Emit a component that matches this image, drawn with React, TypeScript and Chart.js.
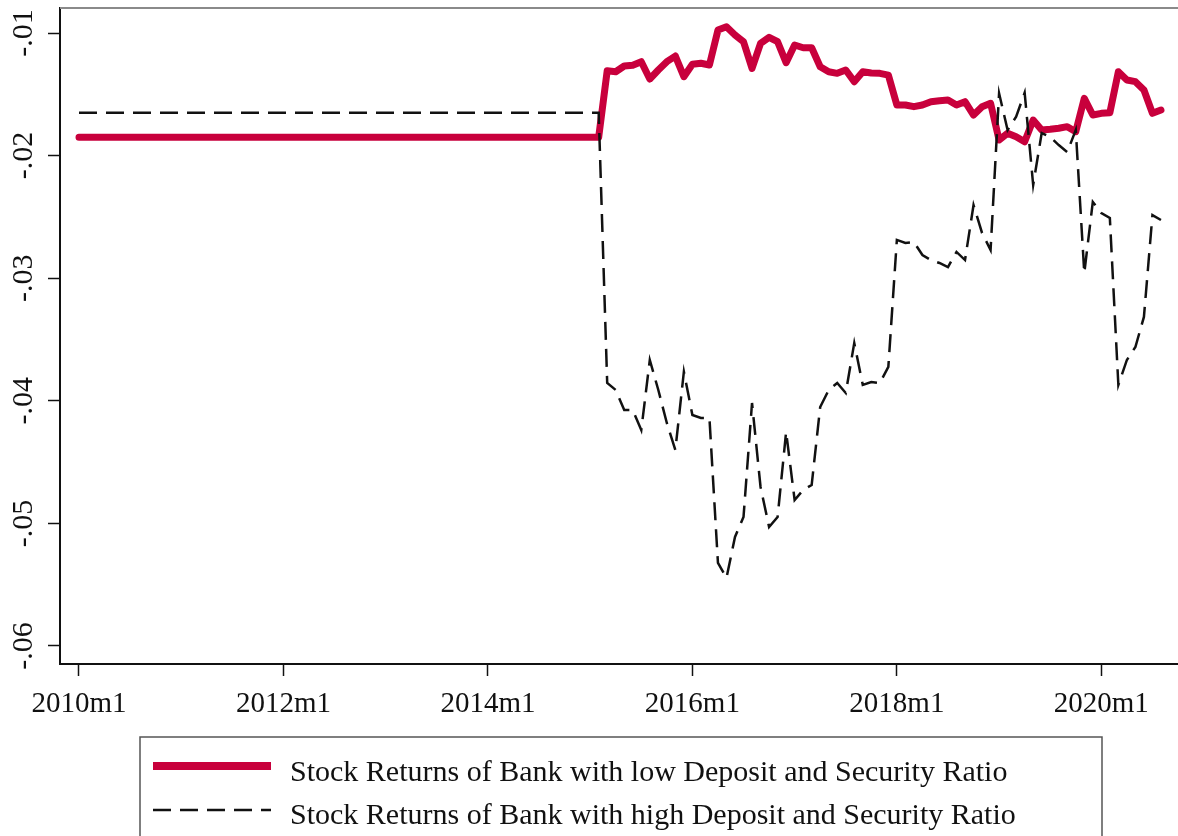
import React, { useEffect, useRef } from 'react';
import { Chart, registerables } from 'chart.js';
Chart.register(...registerables);

// month index: 0 = 2010m1
const flatMonths = [0, 61];
const months = [
  62, 63, 64, 65, 66, 67, 68, 69, 70, 71,
  72, 73, 74, 75, 76, 77, 78, 79, 80, 81,
  82, 83, 84, 85, 86, 87, 88, 89, 90, 91,
  92, 93, 94, 95, 96, 97, 98, 99, 100, 101,
  102, 103, 104, 105, 106, 107, 108, 109, 110, 111,
  112, 113, 114, 115, 116, 117, 118, 119, 120, 121,
  122, 123, 124, 125, 126, 127,
];
const lowFlat = -0.0185;
const highFlat = -0.0165;
const lowRatio = [
  -0.01308, -0.01316, -0.01269, -0.01263, -0.01234, -0.01375, -0.01302, -0.01234, -0.01188, -0.01356,
  -0.01255, -0.01247, -0.01261, -0.00976, -0.00949, -0.01016, -0.01071, -0.01288, -0.01084, -0.01035,
  -0.01071, -0.01242, -0.01098, -0.0112, -0.0112, -0.01275, -0.01316, -0.01329, -0.01302, -0.01397,
  -0.01316, -0.01326, -0.01329, -0.01343, -0.01587, -0.01587, -0.01601, -0.01587, -0.0156, -0.01552,
  -0.01547, -0.01587, -0.0156, -0.01669, -0.01601, -0.01573, -0.01873, -0.01818, -0.01846, -0.01887,
  -0.0171, -0.01791, -0.01785, -0.01777, -0.01764, -0.01805, -0.01533, -0.01669, -0.01655, -0.0165,
  -0.01316, -0.01383, -0.01397, -0.01465, -0.01655, -0.01628,
];
const highRatio = [
  -0.03855, -0.03912, -0.04075, -0.04075, -0.04238, -0.03667, -0.03912, -0.04181, -0.04401, -0.03763,
  -0.04116, -0.0414, -0.0414, -0.05323, -0.05445, -0.05111, -0.04948, -0.04018, -0.04703, -0.05029,
  -0.04948, -0.04254, -0.04809, -0.04728, -0.04687, -0.04051, -0.03912, -0.03855, -0.03936, -0.03529,
  -0.03871, -0.03847, -0.03855, -0.03724, -0.02688, -0.02713, -0.02705, -0.02811, -0.02852, -0.02876,
  -0.02909, -0.02786, -0.02852, -0.02403, -0.02631, -0.0277, -0.01492, -0.01791, -0.01683, -0.01487,
  -0.0224, -0.01816, -0.01848, -0.01914, -0.01971, -0.01791, -0.02958, -0.02378, -0.02468, -0.02509,
  -0.03871, -0.03667, -0.03561, -0.03316, -0.02485, -0.02525,
];
const xTicks = [0, 24, 48, 72, 96, 120];
const yTicks = [-0.06, -0.05, -0.04, -0.03, -0.02, -0.01];
const seriesLabels = [
  'Stock Returns of Bank with low Deposit and Security Ratio',
  'Stock Returns of Bank with high Deposit and Security Ratio',
];

const FONT = "'Liberation Serif', 'Times New Roman', serif";
const RED = '#c8003c';

const toPoints = (flat: number, vals: number[]) => [
  ...flatMonths.map((m) => ({ x: m, y: flat })),
  ...months.map((m, i) => ({ x: m, y: vals[i] })),
];

const framePlugin = {
  id: 'frameAndLegend',
  afterDraw(chart: any) {
    const ctx = chart.ctx;
    const ca = chart.chartArea;
    ctx.save();
    // top frame line
    ctx.strokeStyle = '#8a8a8a';
    ctx.lineWidth = 2;
    ctx.beginPath();
    ctx.moveTo(ca.left, ca.top);
    ctx.lineTo(ca.right, ca.top);
    ctx.stroke();
    // legend box
    const bx = 140, by = 737, bw = 962, bh = 120;
    ctx.strokeStyle = '#555';
    ctx.lineWidth = 1.5;
    ctx.strokeRect(bx, by, bw, bh);
    const ds = chart.data.datasets;
    const rows = [
      { d: ds[1], y: 766, base: 781, w: 8 },
      { d: ds[0], y: 810, base: 824, w: 2.5 },
    ];
    rows.forEach(({ d, y, base, w }) => {
      ctx.strokeStyle = d.borderColor;
      ctx.lineWidth = w;
      ctx.lineCap = 'butt';
      ctx.setLineDash(d.borderDash || []);
      ctx.beginPath();
      ctx.moveTo(153, y);
      ctx.lineTo(271, y);
      ctx.stroke();
      ctx.setLineDash([]);
      ctx.fillStyle = '#111';
      ctx.font = `30px ${FONT}`;
      ctx.textBaseline = 'alphabetic';
      ctx.textAlign = 'left';
      ctx.fillText(d.label, 290, base);
    });
    ctx.restore();
  },
};

export default function App() {
  const ref = useRef<HTMLCanvasElement>(null);
  useEffect(() => {
    if (!ref.current) return;
    const chart = new Chart(ref.current, {
      type: 'line',
      data: {
        datasets: [
          {
            label: seriesLabels[1],
            data: toPoints(highFlat, highRatio),
            borderColor: '#111',
            borderWidth: 2.5,
            borderDash: [18, 9],
            pointRadius: 0,
            tension: 0,
            order: 0,
          },
          {
            label: seriesLabels[0],
            data: toPoints(lowFlat, lowRatio),
            borderColor: RED,
            borderWidth: 7,
            borderCapStyle: 'round',
            borderJoinStyle: 'round',
            pointRadius: 0,
            tension: 0,
            order: 1,
          },
        ],
      },
      options: {
        animation: false,
        responsive: false,
        layout: { padding: { top: 8, right: 0, left: 0, bottom: 112 } },
        plugins: { legend: { display: false }, tooltip: { enabled: false } },
        scales: {
          x: {
            type: 'linear',
            min: -2.23,
            max: 129,
            afterBuildTicks: (s: any) => {
              s.ticks = xTicks.map((v) => ({ value: v }));
            },
            afterFit: (s: any) => {
              s.height = 60;
              s.paddingLeft = 0;
              s.paddingRight = 0;
            },
            grid: { drawOnChartArea: false, tickLength: 12, tickColor: '#111', tickWidth: 1.5 },
            border: { display: true, color: '#111', width: 2 },
            ticks: {
              color: '#111',
              font: { family: FONT, size: 29 },
              padding: 11,
              maxRotation: 0,
              minRotation: 0,
              callback: (v: any) => `${2010 + Number(v) / 12}m1`,
            },
          },
          y: {
            type: 'linear',
            min: -0.06147,
            max: -0.00796,
            afterBuildTicks: (s: any) => {
              s.ticks = yTicks.map((v) => ({ value: v }));
            },
            afterFit: (s: any) => {
              s.width = 60;
              s.paddingTop = 0;
              s.paddingBottom = 0;
            },
            grid: { drawOnChartArea: false, tickLength: 12, tickColor: '#111', tickWidth: 1.5 },
            border: { display: true, color: '#111', width: 2 },
            ticks: {
              color: '#111',
              font: { family: FONT, size: 30 },
              padding: 0,
              minRotation: 90,
              maxRotation: 90,
              crossAlign: 'center',
              callback: (v: any) => '-.' + String(Math.round(-Number(v) * 100)).padStart(2, '0'),
            },
          },
        },
      },
      plugins: [framePlugin],
    } as any);
    return () => chart.destroy();
  }, []);
  return (
    <div style={{ position: 'absolute', left: 0, top: 0, width: 1178, height: 836, background: '#fff' }}>
      <canvas ref={ref} width={1178} height={836} />
    </div>
  );
}
